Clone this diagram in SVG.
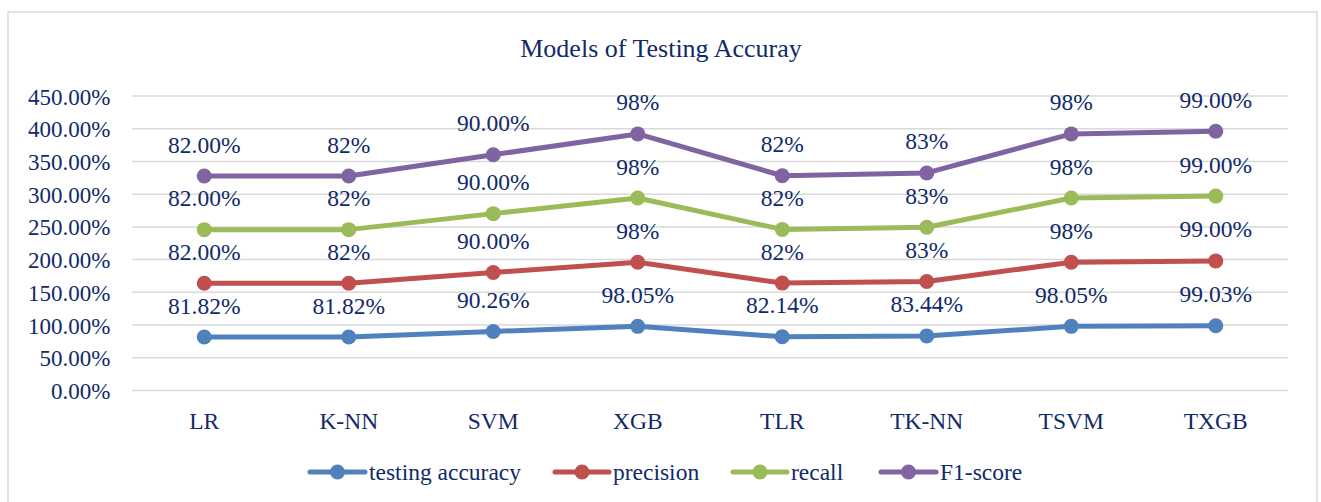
<svg xmlns="http://www.w3.org/2000/svg" width="1321" height="502" viewBox="0 0 1321 502">
<style>
text{font-family:"Liberation Serif","Times New Roman",serif;fill:#102a6a}
.t{font-size:26px}
.ax{font-size:23px}
.dl{font-size:23.5px;text-anchor:middle}
.xl{font-size:23.5px;text-anchor:middle}
.lg{font-size:23.5px}
.grid line{stroke:#d9d9d9;stroke-width:1.5}
.s{fill:none;stroke-width:5;stroke-linejoin:round;stroke-linecap:round}
.acc{stroke:#4f81bd}.accf{fill:#4f81bd}
.pre{stroke:#c0504d}.pref{fill:#c0504d}
.rec{stroke:#9bbb59}.recf{fill:#9bbb59}
.f1{stroke:#8064a2}.f1f{fill:#8064a2}
</style>
<rect x="0" y="0" width="1321" height="502" fill="#fff"/>
<rect id="frame" x="8" y="12" width="1309" height="510" fill="#fff" stroke="#d9d9d9" stroke-width="1.5"/>
<text id="title" class="t" x="661" y="56.5" text-anchor="middle">Models of Testing Accuray</text>
<g id="grid" class="grid">
<line x1="132" y1="390.5" x2="1288" y2="390.5"/>
<line x1="132" y1="357.8" x2="1288" y2="357.8"/>
<line x1="132" y1="325.1" x2="1288" y2="325.1"/>
<line x1="132" y1="292.3" x2="1288" y2="292.3"/>
<line x1="132" y1="259.6" x2="1288" y2="259.6"/>
<line x1="132" y1="226.9" x2="1288" y2="226.9"/>
<line x1="132" y1="194.2" x2="1288" y2="194.2"/>
<line x1="132" y1="161.4" x2="1288" y2="161.4"/>
<line x1="132" y1="128.7" x2="1288" y2="128.7"/>
<line x1="132" y1="96" x2="1288" y2="96"/>
</g>
<g id="yaxis" class="ax" text-anchor="end">
<text x="110.5" y="399">0.00%</text>
<text x="110.5" y="366.3">50.00%</text>
<text x="110.5" y="333.6">100.00%</text>
<text x="110.5" y="300.8">150.00%</text>
<text x="110.5" y="268.1">200.00%</text>
<text x="110.5" y="235.4">250.00%</text>
<text x="110.5" y="202.7">300.00%</text>
<text x="110.5" y="169.9">350.00%</text>
<text x="110.5" y="137.2">400.00%</text>
<text x="110.5" y="104.5">450.00%</text>
</g>
<g id="xaxis" class="xl">
<text x="204.25" y="429">LR</text>
<text x="348.75" y="429">K-NN</text>
<text x="493.25" y="429">SVM</text>
<text x="637.75" y="429">XGB</text>
<text x="782.25" y="429">TLR</text>
<text x="926.75" y="429">TK-NN</text>
<text x="1071.25" y="429">TSVM</text>
<text x="1215.75" y="429">TXGB</text>
</g>
<g id="connectors">
<polyline id="line-acc" class="s acc" points="204.25,336.95 348.75,336.95 493.25,331.43 637.75,326.33 782.25,336.74 926.75,335.89 1071.25,326.33 1215.75,325.69"/>
<polyline id="line-pre" class="s pre" points="204.25,283.29 348.75,283.29 493.25,272.53 637.75,262.2 782.25,283.08 926.75,281.57 1071.25,262.2 1215.75,260.9"/>
<polyline id="line-rec" class="s rec" points="204.25,229.63 348.75,229.63 493.25,213.63 637.75,198.06 782.25,229.42 926.75,227.26 1071.25,198.06 1215.75,196.11"/>
<polyline id="line-f1" class="s f1" points="204.25,175.96 348.75,175.96 493.25,154.73 637.75,133.92 782.25,175.75 926.75,172.94 1071.25,133.92 1215.75,131.32"/>
</g>
<g id="series-acc">
<g class="accf">
<circle cx="204.25" cy="336.95" r="7.5"/><circle cx="348.75" cy="336.95" r="7.5"/><circle cx="493.25" cy="331.43" r="7.5"/><circle cx="637.75" cy="326.33" r="7.5"/><circle cx="782.25" cy="336.74" r="7.5"/><circle cx="926.75" cy="335.89" r="7.5"/><circle cx="1071.25" cy="326.33" r="7.5"/><circle cx="1215.75" cy="325.69" r="7.5"/>
</g>
<g class="dl">
<text x="204.25" y="313.5">81.82%</text><text x="348.75" y="313.5">81.82%</text><text x="493.25" y="308">90.26%</text><text x="637.75" y="302.8">98.05%</text><text x="782.25" y="313.2">82.14%</text><text x="926.75" y="312.4">83.44%</text><text x="1071.25" y="302.8">98.05%</text><text x="1215.75" y="302.2">99.03%</text>
</g>
</g>
<g id="series-pre">
<g class="pref">
<circle cx="204.25" cy="283.29" r="7.5"/><circle cx="348.75" cy="283.29" r="7.5"/><circle cx="493.25" cy="272.53" r="7.5"/><circle cx="637.75" cy="262.2" r="7.5"/><circle cx="782.25" cy="283.08" r="7.5"/><circle cx="926.75" cy="281.57" r="7.5"/><circle cx="1071.25" cy="262.2" r="7.5"/><circle cx="1215.75" cy="260.9" r="7.5"/>
</g>
<g class="dl">
<text x="204.25" y="259.8">82.00%</text><text x="348.75" y="259.8">82%</text><text x="493.25" y="249">90.00%</text><text x="637.75" y="238.7">98%</text><text x="782.25" y="259.6">82%</text><text x="926.75" y="258.1">83%</text><text x="1071.25" y="238.7">98%</text><text x="1215.75" y="237.4">99.00%</text>
</g>
</g>
<g id="series-rec">
<g class="recf">
<circle cx="204.25" cy="229.63" r="7.5"/><circle cx="348.75" cy="229.63" r="7.5"/><circle cx="493.25" cy="213.63" r="7.5"/><circle cx="637.75" cy="198.06" r="7.5"/><circle cx="782.25" cy="229.42" r="7.5"/><circle cx="926.75" cy="227.26" r="7.5"/><circle cx="1071.25" cy="198.06" r="7.5"/><circle cx="1215.75" cy="196.11" r="7.5"/>
</g>
<g class="dl">
<text x="204.25" y="206.1">82.00%</text><text x="348.75" y="206.1">82%</text><text x="493.25" y="190.1">90.00%</text><text x="637.75" y="174.6">98%</text><text x="782.25" y="205.9">82%</text><text x="926.75" y="203.8">83%</text><text x="1071.25" y="174.6">98%</text><text x="1215.75" y="172.6">99.00%</text>
</g>
</g>
<g id="series-f1">
<g class="f1f">
<circle cx="204.25" cy="175.96" r="7.5"/><circle cx="348.75" cy="175.96" r="7.5"/><circle cx="493.25" cy="154.73" r="7.5"/><circle cx="637.75" cy="133.92" r="7.5"/><circle cx="782.25" cy="175.75" r="7.5"/><circle cx="926.75" cy="172.94" r="7.5"/><circle cx="1071.25" cy="133.92" r="7.5"/><circle cx="1215.75" cy="131.32" r="7.5"/>
</g>
<g class="dl">
<text x="204.25" y="152.5">82.00%</text><text x="348.75" y="152.5">82%</text><text x="493.25" y="131.2">90.00%</text><text x="637.75" y="110.4">98%</text><text x="782.25" y="152.3">82%</text><text x="926.75" y="149.4">83%</text><text x="1071.25" y="110.4">98%</text><text x="1215.75" y="107.8">99.00%</text>
</g>
</g>
<g id="legend" class="lg">
<line class="s acc" x1="310" y1="472" x2="365" y2="472"/><circle class="accf" cx="337.5" cy="472" r="7.5"/><text x="369" y="480">testing accuracy</text>
<line class="s pre" x1="555" y1="472" x2="609" y2="472"/><circle class="pref" cx="582" cy="472" r="7.5"/><text x="613" y="480">precision</text>
<line class="s rec" x1="733" y1="472" x2="787" y2="472"/><circle class="recf" cx="760" cy="472" r="7.5"/><text x="791" y="480">recall</text>
<line class="s f1" x1="881" y1="472" x2="936" y2="472"/><circle class="f1f" cx="908.5" cy="472" r="7.5"/><text x="940" y="480">F1-score</text>
</g>
</svg>
